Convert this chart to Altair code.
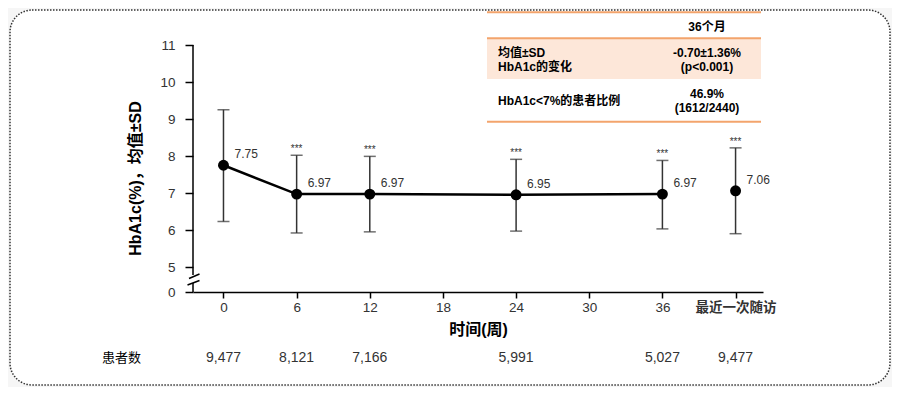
import altair as alt
import pandas as pd

# ---- data ----
weeks = [0, 6, 12, 24, 36, 42]
means = [7.75, 6.97, 6.97, 6.95, 6.97, 7.06]
upper = [9.25, 8.02, 7.99, 7.91, 7.88, 8.22]
lower = [6.23, 5.92, 5.95, 5.97, 6.03, 5.90]
stars = ["", "***", "***", "***", "***", "***"]
connected = [True, True, True, True, True, False]
n_patients = ["9,477", "8,121", "7,166", "5,991", "5,027", "9,477"]
x_ticks = [0, 6, 12, 18, 24, 30, 36, 42]
last_visit_label = "最近一次随访"
y_ticks = [0, 5, 6, 7, 8, 9, 10, 11]
n_row_label = "患者数"
x_title = "时间(周)"
y_title = "HbA1c(%)，均值±SD"

table_header = "36个月"
table_row1_left = ["均值±SD", "HbA1c的变化"]
table_row1_right = ["-0.70±1.36%", "(p<0.001)"]
table_row2_left = ["HbA1c<7%的患者比例"]
table_row2_right = ["46.9%", "(1612/2440)"]

FONT = "Liberation Sans, Noto Sans CJK SC, sans-serif"
W, H = 570, 247

df = pd.DataFrame({
    "week": weeks, "mean": means, "upper": upper, "lower": lower,
    "stars": stars, "connected": connected, "n": n_patients,
})

xs = alt.Scale(domain=[-2.5, 44.25], nice=False, zero=False)
ys = alt.Scale(domain=[0, 5, 11], range=[H, H - 25, 0], nice=False, zero=False)

x_axis = alt.Axis(
    values=x_ticks, domain=True, domainColor="black", domainWidth=1.5,
    ticks=True, tickSize=6, tickColor="black", tickWidth=1.5,
    labelFontSize=13.5, labelColor="#333", labelPadding=2, labelFont=FONT,
    labelExpr=f"datum.value == 42 ? '{last_visit_label}' : datum.label",
    labelFontWeight=alt.condition("datum.value == 42", alt.value("bold"), alt.value("normal")),
    grid=False, title=x_title, titleFont=FONT, titleFontSize=16, titleFontWeight="bold",
    titleColor="black", titleY=37, titleBaseline="middle", zindex=1,
)
y_axis = alt.Axis(
    values=y_ticks, domain=False, ticks=True, tickSize=8, tickColor="black", tickWidth=1.5,
    labelFontSize=13.5, labelColor="#333", labelPadding=10, labelFont=FONT, grid=False,
    title=y_title, titleFont=FONT, titleFontSize=16, titleFontWeight="bold", titleColor="black",
    titleX=-58, titleY=133, titleBaseline="middle", zindex=1,
)

X = alt.X("week:Q", scale=xs, axis=x_axis)
def Y(field):
    return alt.Y(f"{field}:Q", scale=ys, axis=y_axis)

one = pd.DataFrame({"a": [0]})

border = alt.Chart(one).mark_rect(
    fill="white", stroke="#333", strokeWidth=1.5, strokeDash=[1.5, 1.5], cornerRadius=22
).encode(x=alt.value(-183), x2=alt.value(697), y=alt.value(-35), y2=alt.value(340))

def rule(x, x2, y, y2, color="black", w=1.5):
    return alt.Chart(one).mark_rule(color=color, strokeWidth=w).encode(
        x=alt.value(x), x2=alt.value(x2), y=alt.value(y), y2=alt.value(y2))

def fixed_text(txt, x, y, size=12, bold=True, align="left", color="black"):
    return alt.Chart(pd.DataFrame({"t": [txt]})).mark_text(
        align=align, baseline="middle", fontSize=size,
        fontWeight="bold" if bold else "normal", color=color, font=FONT,
    ).encode(x=alt.value(x), y=alt.value(y), text="t:N")

# y axis line with break
axis_parts = [
    rule(0, 0, 0, 230),
    rule(0, 0, 238, H),
    rule(-4, 6.5, 233.5, 229),
    rule(-5.5, 6.5, 240, 235.5),
]

base = alt.Chart(df)

points = base.mark_point(filled=True, color="black", size=120, opacity=1).encode(
    x=X, y=Y("mean"))

err = base.mark_rule(color="#333", strokeWidth=1.5).encode(
    x=X, y=Y("lower"), y2="upper:Q")
cap_hi = base.mark_tick(color="#333", thickness=1.5, size=12, orient="horizontal").encode(
    x=X, y=Y("upper"))
cap_lo = base.mark_tick(color="#333", thickness=1.5, size=12, orient="horizontal").encode(
    x=X, y=Y("lower"))

line = base.transform_filter("datum.connected").mark_line(color="black", strokeWidth=2.5).encode(
    x=X, y=Y("mean"))

vals = base.mark_text(align="left", baseline="middle", dx=11, dy=-11, fontSize=12,
                      color="#333", font=FONT).encode(
    x=X, y=Y("mean"), text=alt.Text("mean:Q", format=".2f"))

star_txt = base.mark_text(align="center", baseline="middle", dy=-6, fontSize=10,
                          color="#333", font=FONT).encode(
    x=X, y=Y("upper"), text="stars:N")

counts = base.mark_text(align="center", baseline="middle", fontSize=14, color="#333",
                        font=FONT).encode(
    x=X, y=alt.value(313), text="n:N")
count_label = fixed_text(n_row_label, -91, 313, size=13, bold=False)

# table
ORANGE = "#f3a46c"
table = [
    alt.Chart(one).mark_rect(fill="#fde7d9").encode(
        x=alt.value(294), x2=alt.value(568), y=alt.value(-6), y2=alt.value(34)),
    rule(294, 568, -32.7, -32.7, ORANGE, 2),
    rule(294, 568, -6.7, -6.7, ORANGE, 2),
    rule(294, 568, 76.7, 76.7, ORANGE, 2),
    fixed_text(table_header, 514, -18.3, align="center"),
    fixed_text(table_row1_left[0], 305, 7.7),
    fixed_text(table_row1_left[1], 305, 21.7),
    fixed_text(table_row1_right[0], 514, 7.7, align="center"),
    fixed_text(table_row1_right[1], 514, 21.7, align="center"),
    fixed_text(table_row2_left[0], 305, 56),
    fixed_text(table_row2_right[0], 514, 49.3, align="center"),
    fixed_text(table_row2_right[1], 514, 63.3, align="center"),
]

chart = alt.layer(
    border, *axis_parts, err, cap_hi, cap_lo, line, points, vals, star_txt,
    counts, count_label, *table,
).properties(
    width=W, height=H,
    autosize=alt.AutoSizeParams(type="none"),
    padding={"left": 185, "top": 37, "right": 129, "bottom": 95},
    background="#f6f6f6",
).configure_view(stroke=None)

chart.save("out.html", embed_options={"renderer": "svg", "actions": False})
